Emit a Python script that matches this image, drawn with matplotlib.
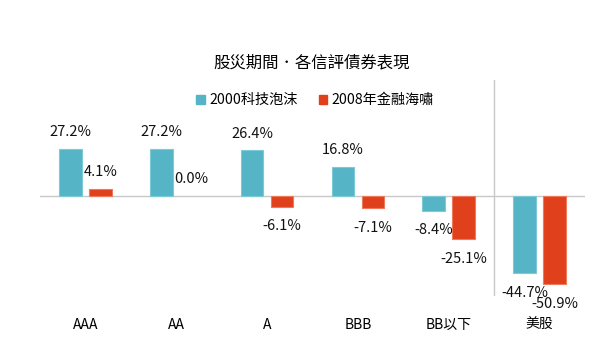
import matplotlib
matplotlib.use("Agg")
import matplotlib.pyplot as plt
from matplotlib.patches import Patch
import numpy as np

plt.rcParams['font.family'] = ['Noto Sans CJK TC', 'DejaVu Sans']

categories = ["AAA", "AA", "A", "BBB", "BB以下", "美股"]
dotcom_2000 = [27.2, 27.2, 26.4, 16.8, -8.4, -44.7]
crisis_2008 = [4.1, 0.0, -6.1, -7.1, -25.1, -50.9]
series_names = ["2000科技泡沫", "2008年金融海嘯"]
title = "股災期間．各信評債券表現"

blue = "#55B5C6"
red = "#E0401C"

fig = plt.figure(figsize=(6, 3.56), dpi=100)
ax = fig.add_axes([40/600, 1-296/356, 545/600, 216/356])

x = np.arange(len(categories))
w = 0.25
off = 0.165
b1 = ax.bar(x - off, dotcom_2000, w, color=blue,
            edgecolor=["#7CCAD7" if v != 0 else "none" for v in dotcom_2000], linewidth=0.8, zorder=3)
b2 = ax.bar(x + off, crisis_2008, w, color=red,
            edgecolor=["#EE7A5E" if v != 0 else "none" for v in crisis_2008], linewidth=0.8, zorder=3)

def label(bars, vals):
    for rect, v in zip(bars, vals):
        cx = rect.get_x() + rect.get_width()/2
        if v >= 0:
            ax.annotate(f"{v:.1f}%", (cx, v), xytext=(0, 12), textcoords="offset points",
                        ha="center", va="center", fontsize=10.5, color="#111111")
        else:
            ax.annotate(f"{v:.1f}%", (cx, v), xytext=(0, -14), textcoords="offset points",
                        ha="center", va="center", fontsize=10.5, color="#111111")

label(b1, dotcom_2000)
label(b2, crisis_2008)

ax.set_xlim(-0.5, len(categories) - 0.5)
ax.set_ylim(-57.8, 67.1)
ax.axhline(0, color="#C8C8C8", linewidth=1, zorder=2)
ax.axvline(4.5, color="#C8C8C8", linewidth=1, zorder=2)

for s in ax.spines.values():
    s.set_visible(False)
ax.set_yticks([])
ax.set_xticks(x)
ax.set_xticklabels(categories, fontsize=10, fontweight="medium")
ax.tick_params(axis="x", length=0, pad=16)

fig.text(312/600, 1-63/356, title, ha="center", va="center", fontsize=11.8, fontweight="medium")
handles = [Patch(facecolor=blue, edgecolor=blue), Patch(facecolor=red, edgecolor=red)]
fig.legend(handles, series_names, loc="center", bbox_to_anchor=(315/600, 1-100/356), ncol=2,
           frameon=False, fontsize=10.2, handlelength=0.6, handleheight=0.6, handletextpad=0.3,
           columnspacing=1.5)

fig.savefig("out.png", dpi=100)
